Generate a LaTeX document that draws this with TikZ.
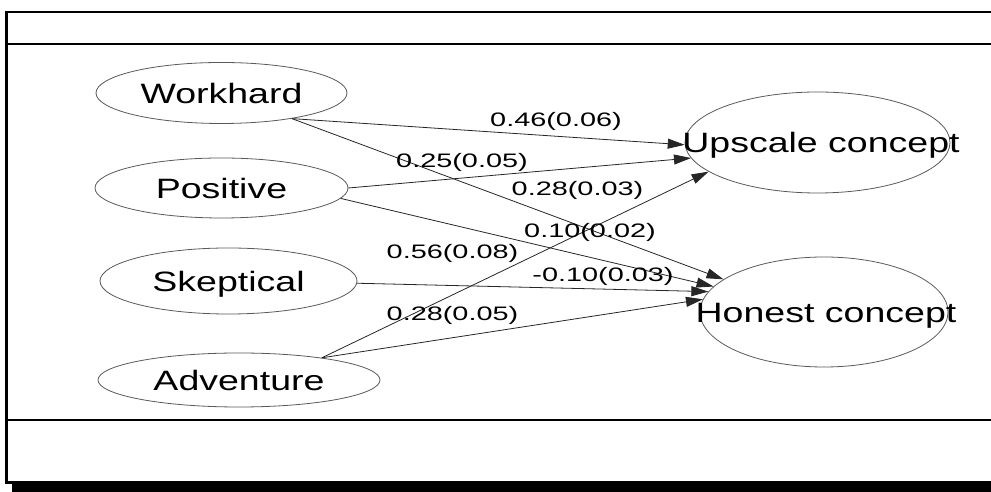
\documentclass[tikz,border=0pt]{standalone}
\usepackage{fontspec}
\usetikzlibrary{shapes.geometric,arrows.meta}
\newfontfamily\varfont[FakeStretch=1.34]{Liberation Sans}
\newfontfamily\coeffont[FakeStretch=1.48]{Liberation Sans}
\begin{document}
\begin{tikzpicture}[x=1pt,y=1pt,
  framerule/.style={line width=2.4pt,black},
  varell/.style={ellipse,draw=black!65,line width=0.8pt,inner sep=0pt,
    text height=20.5pt,text depth=0pt,
    font=\varfont\fontsize{28}{30}\selectfont},
  path/.style={line width=0.8pt,black!85,
    -{Triangle[length=17pt,width=10pt]}},
  coef/.style={anchor=base,inner sep=0pt,
    font=\coeffont\fontsize{19.5}{21}\selectfont}]
\useasboundingbox (0,0) rectangle (991,492);

% page frame with drop shadow
\fill[black] (12,0) rectangle (991,10);
\draw[framerule] (6.3,480) -- (991,480);
\draw[framerule] (6.3,447.7) -- (991,447.7);
\draw[framerule] (6.3,71.8) -- (991,71.8);
\draw[framerule] (6.3,9.5) -- (991,9.5);
\draw[framerule] (6.3,481.2) -- (6.3,8.3);

% observed variables
\node[varell,minimum width=251pt,minimum height=61pt] (wh) at (221.5,399) {\makebox[0pt]{Workhard}};
\node[varell,minimum width=253pt,minimum height=60pt] (po) at (221.5,304) {\makebox[0pt]{Positive}};
\node[varell,minimum width=257pt,minimum height=66pt] (sk) at (228.5,211) {\makebox[0pt]{Skeptical}};
\node[varell,minimum width=282pt,minimum height=54pt] (ad) at (239,112) {\makebox[0pt]{Adventure}};

% latent concepts
\node[varell,minimum width=265pt,minimum height=101pt] (up) at (817.5,349.5) {\makebox[0pt]{\hspace{7pt}Upscale concept}};
\node[varell,minimum width=248pt,minimum height=110pt] (ho) at (824,180) {\makebox[0pt]{\hspace{4pt}Honest concept}};

% structural paths
\draw[path] (wh.-20) -- (up.181);
\draw[path] (po.0) -- (up.187);
\draw[path] (ad.15.5) -- (up.195);
\draw[path] (wh.-20) -- (ho.162.7);
\draw[path] (po.-5.5) -- (ho.167.4);
\draw[path] (sk.-1.8) -- (ho.170.5);
\draw[path] (ad.15.5) -- (ho.174.1);

% path coefficients
\node[coef] (c1) at (556,365.3) {0.46(0.06)};
\node[coef] (c2) at (462,324.3) {0.25(0.05)};
\node[coef] (c3) at (577.5,296) {0.28(0.03)};
\node[coef] (c4) at (590,254.3) {0.10(0.02)};
\node[coef] (c5) at (452.5,233.7) {0.56(0.08)};
\node[coef] (c6) at (603,210.3) {-0.10(0.03)};
\node[coef] (c7) at (452.5,171.3) {0.28(0.05)};
\end{tikzpicture}
\end{document}
